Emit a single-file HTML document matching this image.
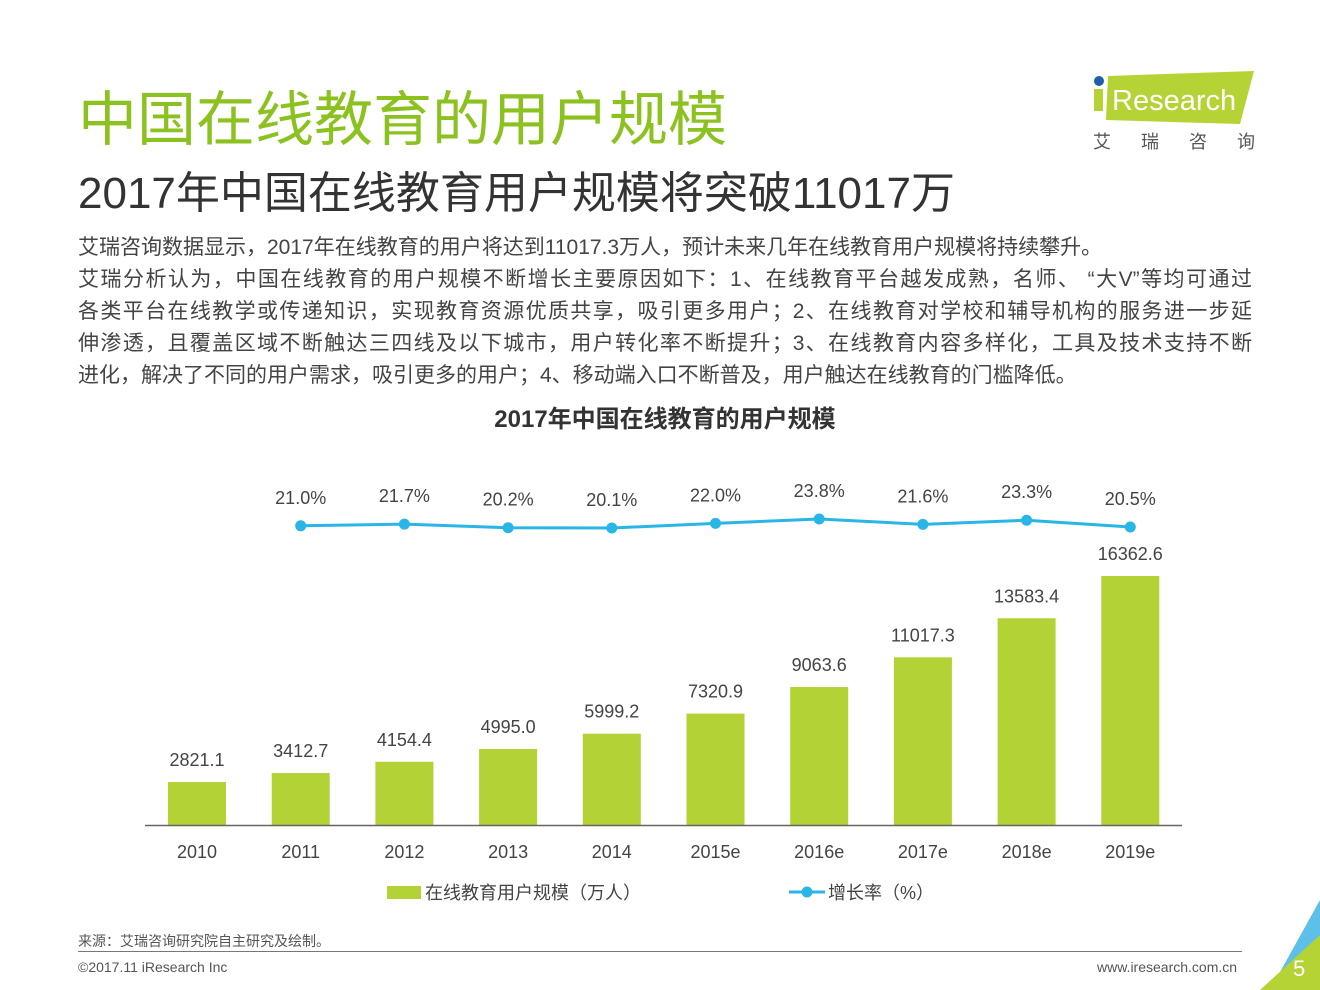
<!DOCTYPE html>
<html><head><meta charset="utf-8"><style>
body{margin:0;width:1320px;height:990px;background:#fff;position:relative;overflow:hidden;font-family:"Liberation Sans","Noto Sans CJK SC",sans-serif;}
.a{position:absolute;white-space:nowrap}
.dl{position:absolute;left:78px;width:1174px;font-size:21px;color:#444;white-space:nowrap;}
.j{text-align:justify;text-align-last:justify;}
</style></head><body>
<div class="a" style="left:78px;top:72px;font-size:59px;color:#8cc220;">中国在线教育的用户规模</div>
<div class="a" style="left:78px;top:157px;font-size:44px;color:#333;">2017年中国在线教育用户规模将突破11017万</div>
<div>
<div class="dl" style="top:231px;">艾瑞咨询数据显示，2017年在线教育的用户将达到11017.3万人，预计未来几年在线教育用户规模将持续攀升。</div>
<div class="dl j" style="top:263px;">艾瑞分析认为，中国在线教育的用户规模不断增长主要原因如下：1、在线教育平台越发成熟，名师、 “大V”等均可通过</div>
<div class="dl j" style="top:295px;">各类平台在线教学或传递知识，实现教育资源优质共享，吸引更多用户；2、在线教育对学校和辅导机构的服务进一步延</div>
<div class="dl j" style="top:327px;">伸渗透，且覆盖区域不断触达三四线及以下城市，用户转化率不断提升；3、在线教育内容多样化，工具及技术支持不断</div>
<div class="dl" style="top:359px;">进化，解决了不同的用户需求，吸引更多的用户；4、移动端入口不断普及，用户触达在线教育的门槛降低。</div>
</div>
<div class="a" style="left:0;width:1330px;text-align:center;top:399px;font-size:24px;font-weight:bold;color:#333;">2017年中国在线教育的用户规模</div>
<svg class="a" style="left:1088px;top:68px" width="175" height="90">
<polygon points="20,8 166,3 152,56 18,52" fill="#b5d334"/>
<circle cx="11" cy="13" r="5" fill="#1f5fa8"/>
<rect x="6" y="21" width="9" height="22" fill="#b5d334"/>
<text x="24" y="42" font-size="29" fill="#fff" font-family="Liberation Sans">Research</text>
<text x="5" y="80" font-size="18" fill="#555" letter-spacing="30" font-family="Noto Sans CJK SC">艾瑞咨询</text>
</svg>
<svg class="a" id="chart" style="left:0;top:0" width="1320" height="990"></svg>
<div class="a" style="left:78px;top:931px;font-size:14px;color:#555;">来源：艾瑞咨询研究院自主研究及绘制。</div>
<div class="a" style="left:78px;top:951px;width:1164px;height:1px;background:#777;"></div>
<div class="a" style="left:78px;top:959px;font-size:14px;color:#555;">©2017.11 iResearch Inc</div>
<div class="a" style="left:1097px;top:959px;font-size:14px;color:#555;">www.iresearch.com.cn</div>
<svg class="a" style="left:1240px;top:900px" width="80" height="90">
<polygon points="80,0 80,90 30,90" fill="#5cc0e8"/><polygon points="80,35 80,90 20,90" fill="#b5d334"/>
<text x="53" y="76" font-size="22" fill="#fff" font-family="Liberation Sans">5</text></svg>
<script>
const years=["2010","2011","2012","2013","2014","2015e","2016e","2017e","2018e","2019e"];
const users=[2821.1,3412.7,4154.4,4995.0,5999.2,7320.9,9063.6,11017.3,13583.4,16362.6];
const growth=[21.0,21.7,20.2,20.1,22.0,23.8,21.6,23.3,20.5];
const NS="http://www.w3.org/2000/svg",svg=document.getElementById('chart');
const xc=i=>197+i*103.7, yb=v=>825-v*0.01522, yl=v=>519-(v-23.8)*2.43;
function mk(t,a){const e=document.createElementNS(NS,t);for(const k in a)e.setAttribute(k,a[k]);svg.appendChild(e);return e;}
function tx(x,y,s,name){const e=mk('text',{x:x,y:y,'text-anchor':'middle','font-size':18,fill:'#444','font-family':'Liberation Sans'});e.textContent=s;

return e;}
users.forEach((v,i)=>{const r=mk('rect',{x:xc(i)-29,y:yb(v),width:58,height:825-yb(v),fill:'#b2d235'});


tx(xc(i),yb(v)-16,v.toFixed(1),'bar-label');tx(xc(i),858,years[i],'x-tick-label');});
const ax=mk('line',{x1:145,x2:1182,y1:825.5,y2:825.5,stroke:'#666','stroke-width':1.5});


const pts=growth.map((v,i)=>(xc(i+1))+','+yl(v)).join(' ');
const pl=mk('polyline',{points:pts,fill:'none',stroke:'#29b6e6','stroke-width':3});


growth.forEach((v,i)=>{const c=mk('circle',{cx:xc(i+1),cy:yl(v),r:5.5,fill:'#29b6e6'});


tx(xc(i+1),yl(v)-22,v.toFixed(1)+'%','growth-label');});
const l1=mk('rect',{x:387,y:886,width:34,height:13,fill:'#b2d235'});


const lt1=mk('text',{x:425,y:899,'font-size':18,fill:'#444','font-family':'Liberation Sans, Noto Sans CJK SC'});lt1.textContent='在线教育用户规模（万人）';


const l2=mk('line',{x1:789,x2:825,y1:892,y2:892,stroke:'#29b6e6','stroke-width':3});


const l3=mk('circle',{cx:807,cy:892,r:5.5,fill:'#29b6e6'});


const lt2=mk('text',{x:828,y:899,'font-size':18,fill:'#444','font-family':'Liberation Sans, Noto Sans CJK SC'});lt2.textContent='增长率（%）';


</script>
</body></html>
